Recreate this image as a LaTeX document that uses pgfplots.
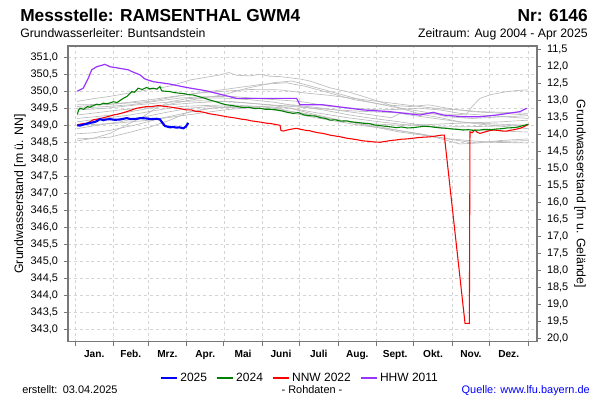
\documentclass[border=0pt]{standalone}
\usepackage{pgfplots}
\pgfplotsset{compat=1.18}
\usepackage{fontspec}
\setmainfont{Liberation Sans}
\definecolor{gridc}{RGB}{212,212,212}
\definecolor{axc}{RGB}{120,120,120}
\definecolor{grayl}{RGB}{188,188,188}
\definecolor{c2025}{RGB}{0,0,255}
\definecolor{c2024}{RGB}{0,128,0}
\definecolor{cnnw}{RGB}{255,0,0}
\definecolor{chhw}{RGB}{153,51,255}
\definecolor{qblue}{RGB}{0,0,255}
\pgfplotsset{
  gline/.style={color=grayl, line width=0.5pt, no marks, forget plot},
}
\begin{document}
\begin{tikzpicture}
\path[use as bounding box] (-51pt,-43.725pt) rectangle (399pt,256.275pt);
\begin{axis}[
  at={(0pt,0pt)}, anchor=south west,
  scale only axis, width=351.75pt, height=221.8pt,
  xmin=-5.6, xmax=372.3, ymin=342.64, ymax=351.33,
  xtick={0,31,59,90,120,151,181,212,243,273,304,334,365},
  xticklabels={},
  extra x ticks={15.5,45,74.5,105,135.5,166,196.5,227.5,258,288.5,319,349.5},
  extra x tick labels={Jan.,Feb.,Mrz.,Apr.,Mai,Juni,Juli,Aug.,Sept.,Okt.,Nov.,Dez.},
  extra x tick style={major tick length=0pt, grid=none,
     tick label style={font=\bfseries\fontsize{7.6}{9}\selectfont, yshift=-3pt}},
  ytick={343,343.5,344,344.5,345,345.5,346,346.5,347,347.5,348,348.5,349,349.5,350,350.5,351},
  xtick pos=bottom, ytick pos=left,
  tick align=outside, major tick length=3pt,
  grid=major, grid style={dash pattern=on 2.2pt off 2.2pt, color=gridc, line width=0.45pt},
  axis line style={color=axc, line width=0.8pt},
  tick style={color=axc, line width=0.6pt},
  /pgf/number format/fixed, /pgf/number format/fixed zerofill,
  /pgf/number format/precision=1, /pgf/number format/use comma,
  /pgf/number format/assume math mode=true,
  yticklabel style={font=\fontsize{8.2}{10}\selectfont, xshift=-1pt},
  legend columns=4,
  legend style={at={(0.4947,-0.1226)}, anchor=center, draw=none, fill=none,
     font=\fontsize{9}{11}\selectfont, inner sep=0pt,
     /tikz/every even column/.append style={column sep=5pt}},
  legend image code/.code={\draw[#1] (0pt,0pt) -- (12pt,0pt);},
]
\addlegendimage{c2025, line width=1.6pt}\addlegendentry{2025}
\addlegendimage{c2024, line width=0.9pt}\addlegendentry{2024}
\addlegendimage{cnnw, line width=0.9pt}\addlegendentry{NNW 2022}
\addlegendimage{chhw, line width=0.9pt}\addlegendentry{HHW 2011}

% gray history lines
\addplot[gline] coordinates {(1.6,349.70)(14.5,349.78)(28.2,349.85)(44.3,349.95)(60.4,350.05)(76.5,350.15)(92.7,350.33)(104,350.40)(116.8,350.48)(124,350.55)(130,350.47)(141,350.45)(149,350.50)(157,350.44)(165.2,350.43)(181.3,350.36)(189.4,350.30)(205.5,350.10)(219.2,349.99)(232,349.85)(245.8,349.69)(262,349.50)(280.4,349.31)(295,349.22)(310,349.10)(330,349.02)(350,348.95)(365,348.90)};
\addplot[gline] coordinates {(1.6,349.55)(20,349.60)(40,349.66)(60.4,349.75)(80,349.85)(100.7,349.95)(120,350.00)(141,350.05)(165.2,350.04)(185,349.95)(205,349.88)(221.6,349.80)(240,349.72)(262,349.62)(278,349.55)(295,349.48)(310,349.45)(326.3,349.40)(345,349.38)(365,349.35)};
\addplot[gline] coordinates {(1.6,349.45)(25,349.50)(50,349.60)(75,349.68)(100,349.72)(125,349.70)(150,349.62)(175,349.55)(200,349.48)(225,349.42)(250,349.38)(275,349.35)(295,349.33)(310,349.32)(315,349.30)(320,349.55)(326.3,349.79)(335,349.90)(348.1,349.99)(356,350.02)(365,350.04)};
\addplot[gline] coordinates {(1.6,348.54)(15,348.62)(28.2,348.76)(40,348.98)(54.8,349.25)(65,349.50)(76.5,349.69)(90,349.78)(100.7,349.80)(120,349.80)(141,349.75)(160,349.68)(181.3,349.55)(200,349.45)(221.6,349.30)(240,349.20)(261.9,349.10)(280,349.00)(302.2,348.90)(330,348.85)(365,348.80)};
\addplot[gline] coordinates {(1.6,348.60)(15,348.62)(28.2,348.65)(45,348.80)(60.4,348.95)(76.5,349.15)(92.7,349.40)(110,349.50)(124.9,349.55)(145,349.52)(165.2,349.45)(185,349.35)(205.5,349.20)(225,349.08)(245.8,348.95)(265,348.82)(286.1,348.70)(300,348.60)(318.3,348.50)(340,348.52)(365,348.55)};
\addplot[gline] coordinates {(1.6,349.30)(20,349.38)(36.3,349.45)(56,349.52)(76.5,349.60)(96,349.66)(116.8,349.70)(137,349.66)(157.1,349.60)(177,349.48)(197.4,349.35)(220,349.22)(245.8,349.10)(265,349.02)(294.1,348.95)(320,348.96)(345,348.98)(365,349.00)};
\addplot[gline] coordinates {(1.6,349.10)(22,349.20)(44.3,349.30)(64,349.43)(84.6,349.55)(105,349.58)(124.9,349.60)(150,349.55)(173.2,349.50)(193,349.32)(213.5,349.15)(237,348.98)(261.9,348.80)(282,348.70)(302.2,348.60)(318,348.55)(334.4,348.50)(350,348.49)(365,348.48)};
\addplot[gline] coordinates {(1.6,348.90)(18,349.00)(36.3,349.10)(56,349.25)(76.5,349.40)(92,349.50)(108.8,349.55)(128,349.52)(149.1,349.50)(170,349.40)(189.4,349.25)(210,349.12)(229.7,349.00)(255,348.88)(278,348.75)(295,348.60)(310.2,348.45)(325,348.48)(342.5,348.55)(365,348.60)};
\addplot[gline] coordinates {(1.6,349.50)(25,349.55)(44.3,349.60)(64,349.70)(84.6,349.80)(105,349.84)(124.9,349.85)(150,349.78)(181.3,349.70)(195,349.62)(205.5,349.55)(225,349.50)(245.8,349.45)(262,349.47)(278,349.50)(294,349.45)(310.2,349.35)(335,349.28)(365,349.20)};
\addplot[gline] coordinates {(1.6,348.75)(15,348.78)(28.2,348.85)(50,349.02)(68.5,349.20)(88,349.35)(108.8,349.50)(130,349.54)(149.1,349.55)(165,349.48)(181.3,349.35)(200,349.22)(221.6,349.10)(245,349.03)(261.9,349.00)(285,349.02)(302.2,349.05)(325,349.08)(342.5,349.10)(365,349.15)};
\addplot[gline] coordinates {(1.6,349.20)(30,349.30)(60,349.50)(90,349.72)(120,349.90)(140,350.10)(160,350.25)(175,350.30)(185,350.20)(200,350.05)(215,349.90)(235,349.70)(255,349.55)(280,349.40)(300,349.25)(320,349.20)(345,349.25)(365,349.28)};
\addplot[gline] coordinates {(1.6,349.00)(30,349.05)(60,349.15)(90,349.30)(120,349.45)(150,349.55)(175,349.60)(200,349.50)(220,349.40)(240,349.30)(255,349.22)(262,349.35)(270,349.30)(290,349.20)(310,349.10)(330,349.05)(365,349.00)};
\addplot[gline] coordinates {(1.6,349.60)(30,349.62)(60,349.70)(90,349.90)(110,350.00)(130,350.10)(150,350.20)(170,350.25)(185,350.15)(205,349.95)(225,349.75)(250,349.60)(270,349.55)(285,349.60)(300,349.50)(320,349.40)(345,349.35)(365,349.30)};

% HHW 2011
\addplot[chhw, line width=0.9pt, no marks, forget plot] coordinates {(1.9,350.00)(6.7,350.09)(10.7,350.38)(13.5,350.63)(17.5,350.72)(24.2,350.79)(28.2,350.72)(34.9,350.68)(42.9,350.63)(45.7,350.58)(52.4,350.48)(56.4,350.36)(63.1,350.28)(76.5,350.21)(90.0,350.11)(106.1,350.01)(124.9,349.84)(130.3,349.79)(149.1,349.79)(178.6,349.79)(181.3,349.60)(200.1,349.60)(210.9,349.55)(232.3,349.45)(253.8,349.40)(278.0,349.30)(288.7,349.38)(296.8,349.30)(312.9,349.25)(326.3,349.25)(339.8,349.30)(358.6,349.40)(364.0,349.50)};

% NNW 2022
\addplot[cnnw, line width=0.8pt, no marks, forget plot] coordinates {(1.9,349.01)(5,349.04)(9.4,349.06)(12,349.10)(14.7,349.16)(18,349.18)(22.8,349.22)(26,349.25)(30.9,349.30)(35,349.33)(38,349.36)(41.7,349.40)(45,349.44)(49.7,349.50)(53,349.52)(57.8,349.55)(62,349.55)(65,349.57)(68.5,349.58)(72,349.55)(76,349.54)(79.2,349.52)(83,349.50)(86,349.48)(90,349.45)(94,349.45)(97,349.41)(100.7,349.40)(104,349.38)(108,349.34)(111.4,349.32)(115,349.30)(118,349.28)(122.2,349.25)(126,349.23)(130,349.21)(134,349.18)(138.4,349.16)(142,349.13)(146,349.11)(150,349.09)(154.5,349.06)(158,349.05)(162,349.02)(165.2,349.00)(166,348.85)(167.9,348.83)(171,348.86)(175,348.89)(178.6,348.91)(182,348.88)(186,348.85)(189,348.84)(192,348.81)(196,348.78)(200,348.76)(205.5,348.71)(209,348.69)(214,348.66)(218.9,348.62)(223,348.60)(228,348.57)(232.3,348.54)(236,348.53)(241,348.51)(245.8,348.50)(249,348.52)(254,348.55)(259.2,348.57)(263,348.59)(268,348.60)(272.6,348.62)(277,348.64)(281,348.65)(286.1,348.66)(290,348.68)(295.5,348.71)(297.6,348.71)(314.3,343.18)(317.8,343.18)(318.3,348.81)(320,348.78)(322.3,348.86)(324,348.80)(326.3,348.76)(330,348.80)(334,348.84)(337.1,348.86)(341,348.85)(345,348.83)(347.9,348.83)(352,348.86)(355,348.88)(358.6,348.91)(362,348.96)(365.3,349.03)};

% 2024
\addplot[c2024, line width=0.8pt, no marks, forget plot] coordinates {(1.9,349.32)(3,349.45)(4,349.50)(7,349.47)(10,349.55)(12,349.53)(15,349.58)(17.5,349.62)(20,349.60)(22.8,349.65)(26,349.63)(30.9,349.69)(34,349.67)(38.9,349.79)(42,349.85)(45.7,349.99)(48,349.97)(51,350.09)(54,350.05)(57.8,350.11)(60,350.07)(63.1,350.09)(66,350.06)(68.5,350.14)(69.9,350.01)(73,350.00)(76.5,349.99)(80,349.96)(84.6,349.94)(88,349.93)(91,349.90)(95.3,349.89)(100,349.84)(104,349.80)(108.8,349.74)(113,349.70)(118,349.64)(122.2,349.60)(127,349.58)(131,349.55)(135.6,349.52)(140,349.53)(145,349.49)(149.1,349.50)(153,349.47)(158,349.47)(162.5,349.45)(167,349.42)(171,349.38)(175.9,349.35)(180,349.37)(185,349.30)(189.4,349.28)(194,349.27)(198,349.22)(202,349.20)(205.5,349.15)(210,349.16)(214,349.12)(218.9,349.13)(223,349.10)(228,349.08)(232.3,349.06)(237,349.05)(241,349.01)(245.8,348.99)(250,348.97)(255,348.95)(259.2,348.93)(263,348.95)(268,348.92)(272.6,348.93)(277,348.95)(281,348.97)(286.1,348.96)(290,348.94)(295,348.92)(299.5,348.91)(304,348.89)(308,348.88)(312.9,348.86)(317,348.87)(321,348.85)(326.3,348.86)(330,348.88)(335,348.87)(339.8,348.89)(344,348.90)(348,348.92)(353.2,348.93)(357,348.95)(361,348.99)(365.3,349.03)};

% 2025
\addplot[c2025, line width=1.6pt, no marks, forget plot] coordinates {(1.9,349.00)(4,348.99)(6.7,349.02)(9,349.04)(12.1,349.07)(15,349.09)(17.5,349.12)(20.1,349.18)(22.8,349.15)(25,349.17)(28.2,349.18)(32,349.16)(36.3,349.17)(39,349.19)(41.7,349.21)(45,349.18)(49.7,349.19)(53,349.21)(57.8,349.20)(61,349.18)(65.8,349.19)(68.5,349.17)(69.9,349.10)(72.5,348.98)(76.5,348.94)(79,348.95)(81.9,348.93)(84,348.94)(87.3,348.91)(89.4,348.96)(91.3,349.07)};
\end{axis}

\begin{axis}[
  at={(0pt,0pt)}, anchor=south west,
  scale only axis, width=351.75pt, height=221.8pt,
  xmin=-5.6, xmax=372.3, ymin=11.41, ymax=20.10, y dir=reverse,
  axis x line=none, axis y line*=right,
  ytick={11.5,12,12.5,13,13.5,14,14.5,15,15.5,16,16.5,17,17.5,18,18.5,19,19.5,20},
  tick align=outside, major tick length=3pt,
  axis line style={color=axc, line width=0.8pt, -},
  tick style={color=axc, line width=0.6pt},
  /pgf/number format/fixed, /pgf/number format/fixed zerofill,
  /pgf/number format/precision=1, /pgf/number format/use comma,
  /pgf/number format/assume math mode=true,
  yticklabel style={font=\fontsize{8.2}{10}\selectfont, xshift=1pt},
]
\addplot[draw=none, forget plot] coordinates {(0,12)(1,12)};
\end{axis}

% titles
\node[anchor=base west, inner sep=0pt, font=\bfseries\fontsize{13}{15}\selectfont] at (-36pt,239.8pt) {Messstelle: RAMSENTHAL GWM4};
\node[anchor=base east, inner sep=0pt, font=\bfseries\fontsize{13}{15}\selectfont] at (390pt,239.8pt) {Nr: 6146};
\node[anchor=base west, inner sep=0pt, font=\fontsize{9.2}{11}\selectfont] at (-36pt,227.8pt) {Grundwasserleiter: Buntsandstein};
\node[anchor=base east, inner sep=0pt, font=\fontsize{9.2}{11}\selectfont] at (390pt,227.8pt) {Zeitraum: Aug 2004 - Apr 2025};
% axis labels
\node[rotate=90, inner sep=0pt, font=\fontsize{9.2}{11}\selectfont] at (-36pt,110.8pt) {Grundwasserstand [m ü. NN]};
\node[rotate=-90, inner sep=0pt, font=\fontsize{9.2}{11}\selectfont] at (384pt,110.8pt) {Grundwasserstand [m u. Gelände]};
% footer
\node[anchor=base west, inner sep=0pt, font=\fontsize{8.2}{10}\selectfont] at (-34.5pt,-39.2pt) {erstellt:\hspace{4pt}03.04.2025};
\node[anchor=base, inner sep=0pt, font=\fontsize{8.2}{10}\selectfont] at (183pt,-39.2pt) {- Rohdaten -};
\node[anchor=base east, inner sep=0pt, font=\fontsize{8.2}{10}\selectfont, text=qblue] at (391.5pt,-39.2pt) {Quelle: www.lfu.bayern.de};
\end{tikzpicture}
\end{document}
